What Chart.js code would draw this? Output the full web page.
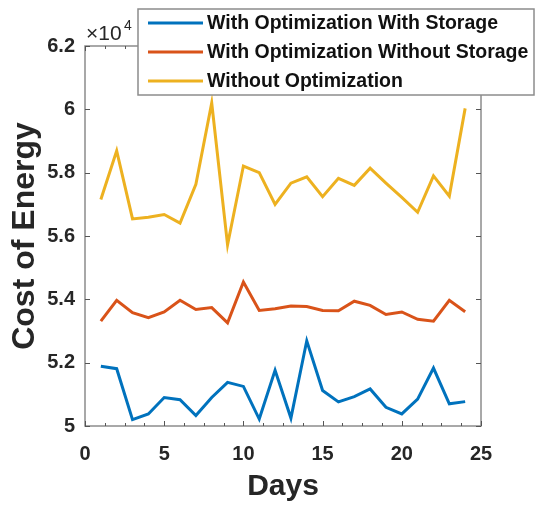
<!DOCTYPE html>
<html>
<head>
<meta charset="utf-8">
<script src="https://cdn.jsdelivr.net/npm/chart.js@4.4.0/dist/chart.umd.min.js"></script>
<style>
  html, body { margin: 0; padding: 0; background: #fff; }
  #wrap { width: 535px; height: 506px; }
</style>
</head>
<body>
<div id="wrap"><canvas id="myChart" width="535" height="506"></canvas></div>
<script>
const days = [1, 2, 3, 4, 5, 6, 7, 8, 9, 10, 11, 12, 13, 14, 15, 16, 17, 18, 19, 20, 21, 22, 23, 24];

const costWithStorage = [51890, 51810, 50200, 50380, 50900, 50830, 50330, 50900, 51380, 51250, 50220, 51760,
    50250, 52690, 51120, 50760, 50930, 51170, 50590, 50380, 50850, 51830, 50700, 50770];
const costWithoutStorage = [53310, 53970, 53580, 53420, 53600, 53970, 53680, 53740, 53260, 54550, 53650, 53700,
    53790, 53770, 53650, 53640, 53940, 53810, 53520, 53600, 53370, 53310, 53970, 53610];
const costWithoutOpt = [57150, 58690, 56540, 56590, 56680, 56410, 57630, 60200, 55720, 58210, 58000, 57000,
    57670, 57870, 57240, 57820, 57600, 58140, 57670, 57220, 56750, 57900, 57260, 60030];

const seriesNames = ['With Optimization With Storage', 'With Optimization Without Storage', 'Without Optimization'];
const seriesColors = ['#0072BD', '#D95319', '#EDB120'];

const xTicks = [0, 5, 10, 15, 20, 25];
const yTicks = [50000, 52000, 54000, 56000, 58000, 60000, 62000];

const fontFamily = "'Liberation Sans', Arial, Helvetica, sans-serif";

function toPoints(values) {
    return values.map((v, i) => ({ x: days[i], y: v }));
}

// box around the plot with inward ticks, like a MATLAB axes
const boxAxes = {
    id: 'boxAxes',
    afterDatasetsDraw(chart) {
        const { ctx, chartArea: a, scales: { x, y } } = chart;
        ctx.save();
        ctx.strokeStyle = '#8c8c8c';
        ctx.lineWidth = 1.5;
        ctx.strokeRect(a.left, a.top, a.right - a.left, a.bottom - a.top);

        ctx.strokeStyle = '#555';
        ctx.lineWidth = 1;
        ctx.beginPath();
        for (let v = xTicks[0]; v <= xTicks[xTicks.length - 1]; v += 1.25) {
            const px = Math.round(x.getPixelForValue(v)) + 0.5;
            const len = v % 5 === 0 ? 5 : 3;
            ctx.moveTo(px, a.bottom);
            ctx.lineTo(px, a.bottom - len);
            ctx.moveTo(px, a.top);
            ctx.lineTo(px, a.top + len);
        }
        yTicks.forEach(v => {
            const py = Math.round(y.getPixelForValue(v)) + 0.5;
            ctx.moveTo(a.left, py);
            ctx.lineTo(a.left + 5, py);
            ctx.moveTo(a.right, py);
            ctx.lineTo(a.right - 5, py);
        });
        ctx.stroke();

        // exponent above the y axis
        ctx.fillStyle = '#262626';
        ctx.textBaseline = 'alphabetic';
        ctx.textAlign = 'left';
        ctx.font = '21px ' + fontFamily;
        ctx.fillText('\u00d710', a.left + 1, 40);
        ctx.font = '14px ' + fontFamily;
        ctx.fillText('4', a.left + 39, 30);
        ctx.restore();
    }
};

// legend box laid over the top of the plot
const boxLegend = {
    id: 'boxLegend',
    afterDraw(chart) {
        const { ctx } = chart;
        const left = 138, top = 9, right = 534, bottom = 95;
        const rows = [23, 52, 81];
        ctx.save();
        ctx.fillStyle = '#fff';
        ctx.fillRect(left, top, right - left, bottom - top);
        ctx.strokeStyle = '#8c8c8c';
        ctx.lineWidth = 1.5;
        ctx.strokeRect(left, top, right - left, bottom - top);

        chart.data.datasets.forEach((ds, i) => {
            ctx.strokeStyle = ds.borderColor;
            ctx.lineWidth = 3;
            ctx.beginPath();
            ctx.moveTo(148, rows[i]);
            ctx.lineTo(203, rows[i]);
            ctx.stroke();
            ctx.fillStyle = '#111';
            ctx.font = 'bold 19.5px ' + fontFamily;
            ctx.textBaseline = 'middle';
            ctx.textAlign = 'left';
            ctx.fillText(ds.label, 207, rows[i] + 1);
        });
        ctx.restore();
    }
};

const ctx = document.getElementById('myChart');

new Chart(ctx, {
    type: 'line',
    data: {
        datasets: [costWithStorage, costWithoutStorage, costWithoutOpt].map((values, i) => ({
            label: seriesNames[i],
            data: toPoints(values),
            borderColor: seriesColors[i],
            backgroundColor: seriesColors[i],
            borderWidth: 3,
            pointRadius: 0,
            tension: 0,
            fill: false
        }))
    },
    options: {
        responsive: false,
        animation: false,
        devicePixelRatio: 1,
        layout: { padding: { left: 0, top: 46, right: 54, bottom: 0 } },
        plugins: {
            legend: { display: false },
            tooltip: { enabled: false }
        },
        scales: {
            x: {
                type: 'linear',
                min: 0,
                max: 25,
                afterBuildTicks(scale) {
                    scale.ticks = xTicks.map(v => ({ value: v }));
                },
                afterFit(scale) {
                    scale.height = 80;
                },
                grid: { display: false, drawTicks: false },
                border: { display: false },
                ticks: {
                    padding: 16,
                    color: '#262626',
                    font: { family: fontFamily, size: 20, weight: 'bold' }
                },
                title: {
                    display: true,
                    text: 'Days',
                    color: '#262626',
                    padding: { top: 0, bottom: 1 },
                    font: { family: fontFamily, size: 30, weight: 'bold' }
                }
            },
            y: {
                type: 'linear',
                min: 50000,
                max: 62000,
                afterBuildTicks(scale) {
                    scale.ticks = yTicks.map(v => ({ value: v }));
                },
                afterFit(scale) {
                    scale.width = 85;
                },
                grid: { display: false, drawTicks: false },
                border: { display: false },
                ticks: {
                    padding: 10,
                    color: '#262626',
                    font: { family: fontFamily, size: 20, weight: 'bold' },
                    callback: value => String(value / 10000)
                },
                title: {
                    display: true,
                    text: 'Cost of Energy',
                    color: '#262626',
                    padding: { top: 6, bottom: 0 },
                    font: { family: fontFamily, size: 32, weight: 'bold' }
                }
            }
        }
    },
    plugins: [boxAxes, boxLegend]
});
</script>
</body>
</html>
